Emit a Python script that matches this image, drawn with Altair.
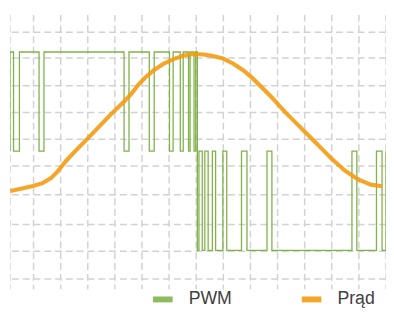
import altair as alt
import pandas as pd

# PWM signal: switching instants (grid units of time) and level held from that instant
pwm_t = [-0.87, -0.87, -0.738, -0.521, 0.203, 0.384, 3.339, 3.520, 4.269, 4.450,
         5.014, 5.148, 5.412, 5.521, 5.716, 5.774, 5.919, 5.980, 6.042, 6.100,
         6.223, 6.317, 6.440, 6.596, 6.715, 6.983, 7.127, 7.670, 7.873, 8.611,
         8.792, 11.744, 11.925, 12.648, 12.855, 13.0]
pwm_level = [0, 1, 0, 1, 0, 1, 0, 1, 0, 1,
             0, 1, 0, 1, 0, 1, 0, 1, -1, 0,
             -1, 0, -1, 0, -1, 0, -1, 0, -1, 0,
             -1, 0, -1, 0, -1, 0]

# Current ("Prąd")
cur_t = [-0.857, -0.423, -0.025, 0.336, 0.662, 0.879, 1.194, 1.556, 1.965, 2.399,
         2.870, 3.303, 3.593, 3.846, 4.099, 4.461, 4.823, 5.185, 5.547, 5.908,
         6.270, 6.523, 6.994, 7.355, 7.717, 8.079, 8.441, 8.803, 9.298, 9.660,
         10.022, 10.384, 10.745, 10.984, 11.469, 11.950, 12.431, 12.855]
cur_val = [-0.401, -0.376, -0.351, -0.322, -0.267, -0.208, -0.099, 0.005, 0.119, 0.243,
           0.376, 0.490, 0.574, 0.663, 0.738, 0.822, 0.886, 0.931, 0.965, 0.980,
           0.975, 0.965, 0.934, 0.884, 0.819, 0.736, 0.637, 0.538, 0.389, 0.290,
           0.191, 0.092, -0.007, -0.074, -0.193, -0.282, -0.337, -0.353]

# grid line positions
x_grid = [-0.87, 0, 1, 2, 3, 4, 5, 6, 7, 8, 9, 10, 11, 12, 13]
y_grid = [1.2, 0.94, 0.66, 0.39, 0.12, -0.15, -0.44, -0.74, -1.01, -1.29]

series_names = ["PWM", "Prąd"]
series_colors = ["#7fb247", "#f49a0c"]

pwm_df = pd.DataFrame({"t": pwm_t, "v": pwm_level, "series": series_names[0],
                       "i": list(range(len(pwm_t)))})
cur_df = pd.DataFrame({"t": cur_t, "v": cur_val, "series": series_names[1],
                       "i": list(range(len(cur_t)))})
xg_df = pd.DataFrame({"t": x_grid})
yg_df = pd.DataFrame({"v": y_grid})

xscale = alt.Scale(domain=[-0.87, 13.0], nice=False, zero=False)
yscale = alt.Scale(domain=[-1.396, 1.376], nice=False, zero=False)
xenc = alt.X("t:Q", scale=xscale, axis=None)
yenc = alt.Y("v:Q", scale=yscale, axis=None)

color = alt.Color("series:N",
                  scale=alt.Scale(domain=series_names, range=series_colors),
                  legend=alt.Legend(title=None, orient="none", direction="horizontal",
                                    columns=2, legendX=146.7, legendY=281,
                                    symbolType="M-3.333,0H3.333", symbolStrokeWidth=6,
                                    symbolSize=36, labelFont="Liberation Sans",
                                    labelFontSize=18, labelColor="#404040",
                                    labelOffset=17.3, columnPadding=58.5, padding=0))

grid_style = dict(color="#d2d2d2", strokeWidth=1.5, strokeDash=[7, 4], clip=True)
vgrid = alt.Chart(xg_df).mark_rule(**grid_style).encode(x=xenc)
hgrid = alt.Chart(yg_df).mark_rule(**grid_style).encode(y=yenc)

pwm = alt.Chart(pwm_df).mark_line(interpolate="step-after", strokeWidth=1.3,
                                  clip=True).encode(
    x=xenc, y=yenc, color=color, order="i:Q")
cur = alt.Chart(cur_df).mark_line(strokeWidth=4.2, opacity=0.88, strokeJoin="round",
                                  clip=True).encode(
    x=xenc, y=yenc, color=color, order="i:Q")

chart = alt.layer(vgrid, hgrid, pwm, cur).properties(
    width=383, height=280,
    padding={"left": 2, "top": 4, "right": 0, "bottom": 0},
).configure_view(stroke=None)

chart.save("out.html", embed_options={"renderer": "svg", "actions": False})
